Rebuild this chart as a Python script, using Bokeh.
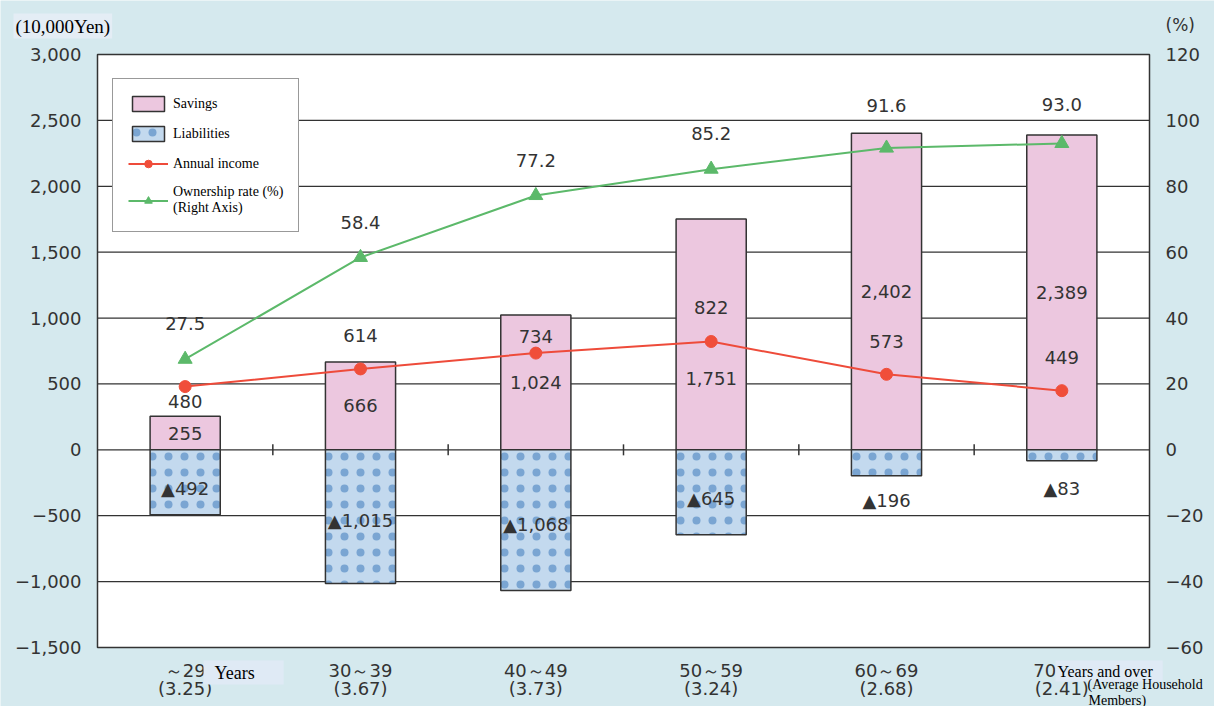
from math import pi
from bokeh.plotting import figure
from bokeh.models import Range1d, LinearAxis, FixedTicker, Label
from bokeh.embed import file_html
from bokeh.resources import INLINE
from bokeh.core.properties import value

# ---- data ----
categories = ["～29", "30～39", "40～49", "50～59", "60～69", "70"]
household_members = ["3.25", "3.67", "3.73", "3.24", "2.68", "2.41"]
savings = [255, 666, 1024, 1751, 2402, 2389]
liabilities = [492, 1015, 1068, 645, 196, 83]
annual_income = [480, 614, 734, 822, 573, 449]
ownership_rate = [27.5, 58.4, 77.2, 85.2, 91.6, 93.0]
left_ticks = [-1500, -1000, -500, 0, 500, 1000, 1500, 2000, 2500, 3000]
right_ticks = [-60, -40, -20, 0, 20, 40, 60, 80, 100, 120]

# ---- label offsets (pixels, style only) ----
income_dy = [15, -33, -17, -34, -33, -33]
savings_dy = [0, 0, 0, 44, 0, 0]
liab_dy = [6, 4, 4, 6, 38, 33]
own_dy = [-36, -35, -35, -36, -43, -39]

# ---- layout (pixels) ----
W, H = 1214, 706
BOX_L, BOX_R, BOX_T, BOX_B = 97, 1149, 54, 647

SANS = "DejaVu Sans"
SERIF = "Liberation Serif"
TXT = "#333333"
BG = "#d5e9ee"

def fmt(v):
    return f"{v:,}".replace("-", "\u2212")

n = len(categories)
xs = [i + 0.5 for i in range(n)]

def padded(lo, hi, px_lo, px_hi, px_total):
    per = (hi - lo) / (px_hi - px_lo)
    return lo - px_lo * per, hi + (px_total - px_hi) * per

x0, x1 = padded(0, n, BOX_L, BOX_R, W)
yb, yt = padded(left_ticks[0], left_ticks[-1], H - BOX_B, H - BOX_T, H)
pb, pt = padded(right_ticks[0], right_ticks[-1], H - BOX_B, H - BOX_T, H)

p = figure(width=W, height=H, x_range=Range1d(x0, x1), y_range=Range1d(yb, yt),
           output_backend="svg", toolbar_location=None, min_border=0)
p.extra_y_ranges = {"pct": Range1d(pb, pt)}

p.background_fill_color = BG
p.border_fill_color = BG
p.outline_line_color = None
p.xgrid.visible = False
p.ygrid.visible = False

# plot area box
p.quad(left=0, right=n, bottom=left_ticks[0], top=left_ticks[-1],
       fill_color="white", line_color=None)
# horizontal grid lines
p.segment(x0=[0] * len(left_ticks), x1=[n] * len(left_ticks),
          y0=left_ticks, y1=left_ticks, line_color=TXT, line_width=1.2)

# axes (fixed at the box edges)
yax = p.yaxis[0]
yax.fixed_location = 0
yax.ticker = FixedTicker(ticks=left_ticks)
yax.major_label_overrides = {t: fmt(t) for t in left_ticks}
right = LinearAxis(y_range_name="pct", ticker=FixedTicker(ticks=right_ticks),
                   fixed_location=n)
right.major_label_overrides = {t: fmt(t) for t in right_ticks}
p.add_layout(right, "right")

for ax in [yax, right]:
    ax.axis_line_color = None
    ax.major_tick_in = 0
    ax.major_tick_out = 0
    ax.minor_tick_line_color = None
    ax.major_label_text_font = SANS
    ax.major_label_text_font_size = "18px"
    ax.major_label_text_color = TXT
    ax.major_label_standoff = 16

xlabels = {}
for i, (x, c, m) in enumerate(zip(xs, categories, household_members)):
    pad = "\u00a0" * 6 if i == n - 1 else ""
    xlabels[x] = f"{c}{pad}\n({m})"
xax = p.xaxis[0]
xax.fixed_location = left_ticks[0]
xax.ticker = FixedTicker(ticks=xs)
xax.major_label_overrides = xlabels
xax.axis_line_color = None
xax.major_tick_in = 0
xax.major_tick_out = 0
xax.minor_tick_line_color = None
xax.major_label_text_font = SANS
xax.major_label_text_font_size = "18px"
xax.major_label_text_color = TXT
xax.major_label_text_line_height = 0.9
xax.major_label_standoff = 12

# bars
p.vbar(x=xs, top=savings, bottom=0, width=0.4,
       fill_color="#ecc7df", line_color=TXT, line_width=1.5,
       legend_label="Savings")
p.vbar(x=xs, top=0, bottom=[-v for v in liabilities], width=0.4,
       fill_color="#c3d9ee", line_color=TXT, line_width=1.5,
       hatch_pattern="dot", hatch_color="#5b8fc6", hatch_alpha=0.7,
       hatch_scale=16, hatch_weight=1,
       legend_label="Liabilities")

# box outline
p.quad(left=0, right=n, bottom=left_ticks[0], top=left_ticks[-1],
       fill_color=None, line_color=TXT, line_width=1.5)

# boundary ticks on zero line
bounds = list(range(1, n))
p.scatter(x=bounds, y=[0] * len(bounds), marker="dash", angle=pi / 2, size=11,
          line_color=TXT, line_width=1.5)

# income line
p.line(xs, annual_income, line_color="#ee4b3a", line_width=2,
       legend_label="Annual income")
p.scatter(xs, annual_income, marker="circle", size=12,
          fill_color="#f04e3a", line_color="#f04e3a", legend_label="Annual income")

# ownership line
own_label = "Ownership rate (%)\n(Right Axis)"
p.line(xs, ownership_rate, y_range_name="pct", line_color="#5cb96a",
       line_width=2, legend_label=own_label)
p.scatter(xs, ownership_rate, y_range_name="pct", marker="triangle", size=14,
          fill_color="#5cb96a", line_color="#5cb96a", legend_label=own_label)

# data labels
common = dict(text_align="center", text_baseline="middle",
              text_font=value(SANS), text_font_size="18px", text_color=TXT)
p.text(x=xs, y=[v / 2 for v in savings], text=[fmt(v) for v in savings],
       y_offset=savings_dy, **common)
p.text(x=xs, y=annual_income, text=[fmt(v) for v in annual_income],
       y_offset=income_dy, **common)
p.text(x=xs, y=[-v / 2 for v in liabilities],
       text=["\u25b2" + fmt(v) for v in liabilities], y_offset=liab_dy, **common)
p.text(x=xs, y=ownership_rate, y_range_name="pct",
       text=[f"{v:.1f}" for v in ownership_rate], y_offset=own_dy, **common)

# legend
lg = p.legend[0]
lg.location = (112, H - 232)
lg.border_line_color = TXT
lg.border_line_width = 1.5
lg.background_fill_color = "white"
lg.background_fill_alpha = 1
lg.label_text_font = SERIF
lg.label_text_font_size = "14px"
lg.label_text_color = "black"
lg.glyph_width = 40
lg.glyph_height = 19
lg.label_standoff = 5
lg.spacing = 11
lg.padding = 15
lg.margin = 0

# annotation texts (canvas pixel units)
def note(x, y, text, font, size, color="black", **kw):
    p.add_layout(Label(x=x, y=y, x_units="canvas", y_units="canvas", text=text,
                       text_font=font, text_font_size=size, text_color=color,
                       text_baseline="top", **kw))

note(13, 13, "(10,000Yen)", SERIF, "19px", background_fill_color="#e4edf5", padding=2)
note(1165, 14, "(%)", SANS, "17px", TXT)
note(203, 660, "\u00a0\u00a0Years\u00a0\u00a0\u00a0\u00a0\u00a0\u00a0", SERIF, "18px",
     background_fill_color="#dfeaf5", padding=2)
note(1055, 660, "Years and over\u00a0\u00a0", SERIF, "16px",
     background_fill_color="#dfeaf5", padding=2)
note(1087, 676, "(Average Household", SERIF, "14px")
note(1088, 692, "Members)", SERIF, "14px")

open("out.html", "w").write(file_html(p, INLINE))
